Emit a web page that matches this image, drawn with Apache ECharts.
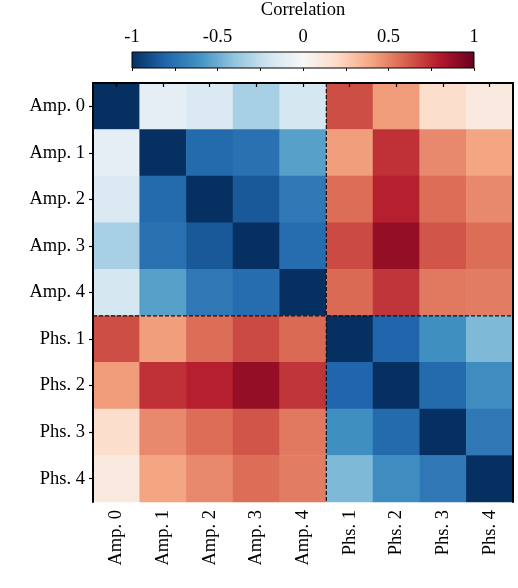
<!DOCTYPE html>
<html>
<head>
<meta charset="utf-8">
<script src="https://cdn.jsdelivr.net/npm/echarts@6/dist/echarts.min.js"></script>
<style>html,body{margin:0;padding:0;background:#fff;}#c{width:518px;height:588px;}</style>
</head>
<body>
<div id="c"></div>
<script>
const labels = ['Amp. 0','Amp. 1','Amp. 2','Amp. 3','Amp. 4','Phs. 1','Phs. 2','Phs. 3','Phs. 4'];
const ampCount = 5;
const corr = [
  [-1.00, -0.10, -0.15, -0.33, -0.18,  0.65,  0.43,  0.18,  0.10],
  [-0.10, -1.00, -0.78, -0.75, -0.55,  0.42,  0.73,  0.48,  0.40],
  [-0.15, -0.78, -1.00, -0.85, -0.72,  0.56,  0.78,  0.56,  0.48],
  [-0.33, -0.75, -0.85, -1.00, -0.77,  0.66,  0.88,  0.63,  0.56],
  [-0.18, -0.55, -0.72, -0.77, -1.00,  0.57,  0.72,  0.53,  0.52],
  [ 0.65,  0.42,  0.56,  0.66,  0.57, -1.00, -0.80, -0.62, -0.45],
  [ 0.43,  0.73,  0.78,  0.88,  0.72, -0.80, -1.00, -0.78, -0.63],
  [ 0.18,  0.48,  0.56,  0.63,  0.53, -0.62, -0.78, -1.00, -0.72],
  [ 0.10,  0.40,  0.48,  0.56,  0.52, -0.45, -0.63, -0.72, -1.00]
];
const cbTicks = [-1, -0.5, 0, 0.5, 1];
const rdbu = ['#053061','#2166ac','#4393c3','#92c5de','#d1e5f0','#f7f7f7','#fddbc7','#f4a582','#d6604d','#b2182b','#67001f'];

const chart = echarts.init(document.getElementById('c'), null, {renderer:'canvas'});
const data = [];
for (let i = 0; i < corr.length; i++) for (let j = 0; j < corr[i].length; j++) data.push([j, i, corr[i][j]]);
const n = labels.length;
const font = 'Liberation Serif';
const fs = 18.5;
const grad = new echarts.graphic.LinearGradient(0,0,1,0, rdbu.map((c,i)=>({offset:i/(rdbu.length-1), color:c})));

chart.setOption({
  animation:false,
  textStyle:{fontFamily:font},
  grid:[
    {left:93, top:83, width:420, height:419, show:false},
    {left:132, top:49, width:342, height:19, show:true, backgroundColor:grad, borderColor:'#000', borderWidth:1}
  ],
  visualMap:{show:false, min:-1, max:1, dimension:2, seriesIndex:0, inRange:{color:rdbu}},
  xAxis:[
    {type:'category', data:labels, gridIndex:0, position:'bottom', z:10,
     axisLine:{show:true, lineStyle:{color:'#000', width:2}},
     axisTick:{show:true, alignWithLabel:true, length:4, lineStyle:{color:'#000', width:1.2}},
     axisLabel:{rotate:90, fontFamily:font, fontSize:fs, color:'#000', margin:8},
     splitLine:{show:false}},
    {type:'value', gridIndex:0, min:0, max:n, position:'top', z:10,
     axisLine:{show:true, lineStyle:{color:'#000', width:2}},
     axisTick:{show:false}, axisLabel:{show:false}, splitLine:{show:false}},
    {type:'value', gridIndex:1, min:-1, max:1, interval:0.5, position:'top', z:10,
     name:'Correlation', nameLocation:'middle', nameGap:32,
     nameTextStyle:{fontFamily:font, fontSize:fs, color:'#000'},
     axisLine:{show:false},
     axisTick:{show:true, inside:true, length:3, lineStyle:{color:'#000', width:1}},
     minorTick:{show:true, splitNumber:2, length:3, lineStyle:{color:'#000', width:1}},
     axisLabel:{fontFamily:font, fontSize:fs, color:'#000', margin:5,
       formatter:(v)=>{const t=cbTicks.find(x=>Math.abs(x-v)<1e-9); return t===undefined?'':String(t);}},
     splitLine:{show:false}}
  ],
  yAxis:[
    {type:'category', data:labels, gridIndex:0, inverse:true, position:'left', z:10,
     axisLine:{show:true, lineStyle:{color:'#000', width:2}},
     axisTick:{show:true, alignWithLabel:true, length:4, lineStyle:{color:'#000', width:1.2}},
     axisLabel:{fontFamily:font, fontSize:fs, color:'#000', margin:8},
     splitLine:{show:false}},
    {type:'value', gridIndex:0, min:0, max:n, inverse:true, position:'right', z:10,
     axisLine:{show:true, lineStyle:{color:'#000', width:2}},
     axisTick:{show:false}, axisLabel:{show:false}, splitLine:{show:false}},
    {type:'value', gridIndex:1, min:0, max:1, show:false}
  ],
  series:[
    {type:'heatmap', xAxisIndex:0, yAxisIndex:0, data:data, itemStyle:{borderWidth:0}, emphasis:{disabled:true}},
    {type:'line', xAxisIndex:1, yAxisIndex:1, data:[[ampCount,0],[ampCount,n]], symbol:'none', z:8,
     lineStyle:{color:'#111', width:1.2, type:[4,2]}},
    {type:'line', xAxisIndex:1, yAxisIndex:1, data:[[0,ampCount],[n,ampCount]], symbol:'none', z:8,
     lineStyle:{color:'#111', width:1.2, type:[4,2]}}
  ]
});
</script>
</body>
</html>
